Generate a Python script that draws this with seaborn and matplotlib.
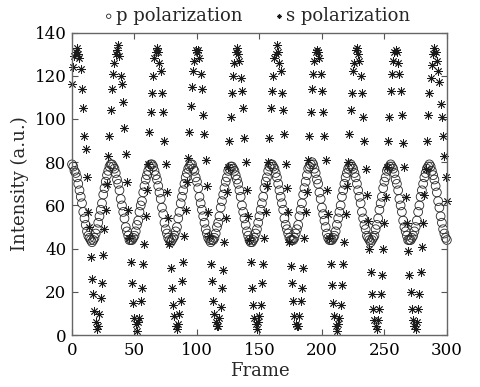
import numpy as np
import pandas as pd
import matplotlib
matplotlib.use("Agg")
import matplotlib.pyplot as plt
import seaborn as sns

frames = list(range(301))

# p polarization, one value per frame (cycle by cycle)
p_pol = [
    79, 78, 76, 75, 73, 70, 67, 64, 61, 57, 54, 51, 48, 46, 45, 44, 43, 44, 45, 47,
    49, 52, 55, 58, 61, 65, 68, 71, 74, 76, 78, 79,
    79, 78, 77, 75, 72, 70, 67, 63, 60, 57, 54, 50, 48, 46, 44, 44, 44, 45, 46, 48,
    51, 53, 57, 60, 62, 66, 69, 72, 74, 76, 78, 79,
    79, 78, 76, 74, 72, 69, 66, 63, 59, 56, 52, 49, 47, 45, 44, 43, 44, 45, 46, 48,
    50, 54, 57, 61, 64, 67, 70, 73, 75, 77, 78,
    79, 79, 77, 76, 73, 71, 68, 64, 61, 58, 55, 52, 49, 47, 45, 44, 43, 44, 44, 45,
    47, 50, 52, 55, 59, 62, 65, 68, 71, 73, 76, 77, 78,
    78, 77, 76, 74, 72, 70, 67, 64, 60, 57, 54, 51, 48, 46, 44, 43, 43, 44, 45, 47,
    49, 52, 55, 58, 61, 64, 68, 71, 73, 76, 78, 79,
    79, 78, 77, 75, 73, 70, 67, 64, 61, 58, 54, 51, 49, 47, 45, 44, 44, 44, 45, 47,
    49, 51, 55, 58, 61, 65, 68, 71, 74, 77, 78, 79,
    80, 79, 77, 75, 72, 70, 66, 63, 59, 56, 53, 50, 47, 45, 44, 44, 44, 45, 46, 48,
    51, 54, 57, 60, 64, 67, 70, 73, 75, 77, 78,
    79, 78, 77, 75, 73, 70, 67, 64, 61, 57, 54, 51, 49, 46, 45, 44, 43, 44, 45, 46,
    49, 51, 54, 58, 61, 64, 68, 71, 73, 76, 77, 78,
    79, 78, 77, 75, 72, 70, 67, 63, 60, 57, 53, 50, 48, 46, 44, 44, 44, 45, 46, 48,
    50, 53, 57, 60, 64, 67, 70, 73, 75, 77, 78,
    79, 78, 76, 74, 72, 69, 66, 62, 59, 55, 52, 49, 47, 45, 44,
]

# s polarization, one value per frame
s_pol = [
    116, 124, 129, 131,
    133, 130, 128, 123, 114, 105, 92, 86, 73, 57, 50, 36, 26, 19, 11, 6,
    3, 4, 10, 17, 24, 37, 49, 58, 70, 83, 92, 104, 114, 121, 126, 130,
    132, 134, 129, 120, 116, 108, 96, 84, 71, 58, 45, 34, 24, 15, 8, 5,
    2, 6, 8, 16, 22, 33, 42, 55, 67, 79, 94, 103, 112, 120, 128, 131,
    133, 131, 126, 122, 112, 103, 90, 79, 66, 54, 42, 31, 22, 14, 9, 4,
    3, 5, 10, 16, 25, 34, 46, 58, 71, 82, 94, 106, 115, 122, 127, 132,
    131, 132, 128, 121, 114, 102, 93, 81, 69, 57, 46, 33, 25, 16, 10, 6,
    4, 4, 8, 13, 22, 30, 43, 54, 66, 78, 90, 101, 112, 120, 126, 131,
    133, 130, 127, 119, 113, 105, 91, 80, 67, 55, 44, 34, 22, 14, 8, 5,
    3, 6, 9, 14, 24, 33, 45, 57, 69, 80, 91, 105, 113, 120, 128, 130,
    134, 131, 126, 122, 112, 104, 93, 79, 68, 57, 43, 32, 24, 16, 9, 5,
    4, 4, 9, 16, 22, 31, 45, 57, 66, 81, 92, 103, 114, 121, 127, 131,
    132, 131, 128, 121, 113, 103, 92, 81, 67, 56, 45, 33, 23, 15, 9, 4,
    2, 5, 8, 14, 23, 33, 43, 56, 69, 80, 93, 104, 112, 122, 126, 132,
    133, 130, 127, 120, 112, 101, 90, 77, 65, 53, 40, 29, 19, 12, 7, 4,
    3, 7, 12, 19, 28, 40, 52, 64, 78, 90, 101, 113, 121, 127, 131,
    132, 131, 126, 121, 113, 102, 89, 78, 64, 52, 39, 28, 20, 12, 7, 4,
    3, 6, 12, 19, 29, 41, 52, 65, 77, 90, 102, 112, 119, 125, 130,
    133, 131, 127, 122, 117, 107, 101, 92, 83, 73, 62,
]

x_ticks = [0, 50, 100, 150, 200, 250, 300]
y_ticks = [0, 20, 40, 60, 80, 100, 120, 140]

sns.set_theme(style="ticks")
plt.rcParams["font.family"] = ["DejaVu Serif"]

fig = plt.figure(figsize=(4.8, 3.87), dpi=100)
ax = fig.add_axes([0.15, 0.134, 0.781, 0.782])

df_p = pd.DataFrame({"frame": frames, "intensity": p_pol})
df_s = pd.DataFrame({"frame": frames, "intensity": s_pol})

sns.scatterplot(data=df_p, x="frame", y="intensity", marker="o", s=40,
                facecolors="none", edgecolor="#262626", linewidth=0.6,
                label="p polarization", clip_on=False, ax=ax)
sns.scatterplot(data=df_s, x="frame", y="intensity", marker=(8, 2, 0), s=32,
                color="#1a1a1a", linewidth=0.6,
                label="s polarization", clip_on=False, ax=ax)

ax.set_xlim(0, 300)
ax.set_ylim(0, 140)
ax.set_xticks(x_ticks)
ax.set_yticks(y_ticks)
ax.set_xlabel("Frame", fontsize=13, labelpad=2)
ax.set_ylabel("Intensity (a.u.)", fontsize=13, labelpad=4)
ax.tick_params(direction="in", length=4, width=0.8, colors="#555555",
               labelcolor="black", labelsize=12, top=True, right=True)
ax.tick_params(axis="x", pad=5)
ax.tick_params(axis="y", pad=4)
for sp in ax.spines.values():
    sp.set_color("#666666")
    sp.set_linewidth(1.0)

ax.legend(loc="lower center", bbox_to_anchor=(0.49, 0.995), ncol=2,
          frameon=False, handletextpad=0.0, columnspacing=1.6,
          handlelength=0.8, markerscale=0.5, fontsize=13, borderaxespad=0.1)

fig.savefig("out.png", dpi=100)
